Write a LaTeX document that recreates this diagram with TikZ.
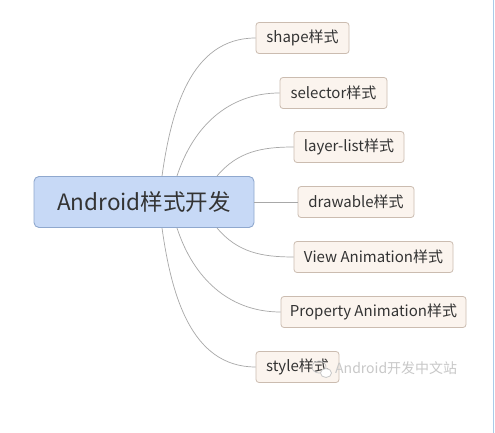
\documentclass[tikz,border=0pt]{standalone}
\usepackage{fontspec}
\setmainfont{Noto Sans CJK SC}
\usepackage{xcolor}
\usepackage{tikz}
\definecolor{rootfill}{HTML}{C7D9F6}
\definecolor{rootline}{HTML}{8FA8CE}
\definecolor{leaffill}{HTML}{FBF4EE}
\definecolor{leafline}{HTML}{CBBCB0}
\definecolor{branch}{HTML}{A8A8A8}
\definecolor{inktext}{HTML}{333333}
\definecolor{markgray}{HTML}{C8C8C8}
\definecolor{edgeblue}{HTML}{A9CBE8}

\begin{document}
\begin{tikzpicture}[x=1pt,y=1pt,
    root/.style={draw=rootline,fill=rootfill,rounded corners=5pt,line width=0.9pt,
      minimum width=220pt,minimum height=51pt,inner sep=0pt,text=inktext,font=\fontsize{22.5}{24}\selectfont},
    leaf/.style={draw=leafline,fill=leaffill,rounded corners=3pt,line width=0.8pt,
      minimum height=31pt,inner sep=0pt,text=inktext,font=\fontsize{15}{17}\selectfont},
    branchline/.style={branch,line width=0.7pt}]
  \useasboundingbox (0,0) rectangle (495,433);
  \fill[white] (0,0) rectangle (495,433);
  \draw[edgeblue,line width=1.5pt] (493.5,0) -- (493.5,433);
  \node[root] (core) at (144,231) {Android样式开发};
  \node[leaf,minimum width=93pt] (shape) at (302.5,395) {shape样式};
  \node[leaf,minimum width=107pt] (selector) at (333.5,340) {selector样式};
  \node[leaf,minimum width=110pt] (layerlist) at (349,286) {layer-list样式};
  \node[leaf,minimum width=116pt] (drawable) at (356,231) {drawable样式};
  \node[leaf,minimum width=159pt] (viewanim) at (373.5,176) {View Animation样式};
  \node[leaf,minimum width=185pt] (propanim) at (373.5,121) {Property Animation样式};
  \node[leaf,minimum width=83pt] (style) at (297.5,66) {style样式};
  \draw[branchline] ([xshift=18pt]core.north) to[out=82,in=180] (shape.west);
  \draw[branchline] ([xshift=33pt]core.north) to[out=72,in=180] (selector.west);
  \draw[branchline] ([xshift=73pt]core.north) to[out=50,in=180] (layerlist.west);
  \draw[branchline] (core.east) -- (drawable.west);
  \draw[branchline] ([xshift=73pt]core.south) to[out=-50,in=180] (viewanim.west);
  \draw[branchline] ([xshift=33pt]core.south) to[out=-72,in=180] (propanim.west);
  \draw[branchline] ([xshift=18pt]core.south) to[out=-82,in=180] (style.west);
  \draw[markgray,line width=0.8pt] (319,66) ellipse (7pt and 6pt);
  \draw[markgray,fill=white,line width=0.8pt] (326,60) ellipse (5.5pt and 4.5pt);
  \node[markgray,anchor=west,inner sep=0pt,font=\fontsize{14}{16}\selectfont] (mark) at (335,65) {Android开发中文站};
\end{tikzpicture}
\end{document}
